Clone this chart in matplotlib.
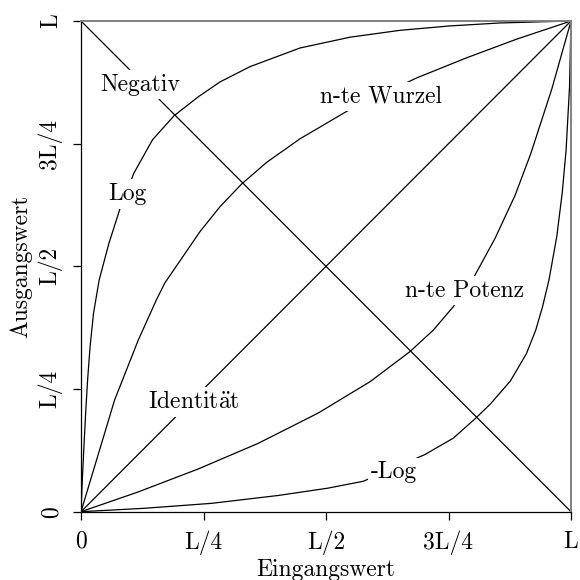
"""
Grauwert-Transformationen: Eingangswert gegen Ausgangswert
"""

import matplotlib
matplotlib.use('Agg')  # ohne GUI
import matplotlib.pyplot as plt

plt.rcParams['font.family'] = ['cmr10', 'DejaVu Serif']
plt.rcParams['mathtext.fontset'] = 'cm'
plt.rcParams['axes.formatter.use_mathtext'] = True

# Werte als Anteil von L
ident_x = [0, 1]
ident_y = [0, 1]

neg_x = [0, 1]
neg_y = [1, 0]

log_x = [0, 0.0027, 0.0060, 0.0095, 0.0135, 0.0185, 0.0255, 0.0370, 0.0570, 0.0820,
         0.108, 0.146, 0.190, 0.240, 0.284, 0.345, 0.447, 0.549, 0.651, 0.753, 0.855, 1.0]
log_y = [0, 0.065, 0.133, 0.201, 0.269, 0.336, 0.404, 0.472, 0.547, 0.625,
         0.690, 0.758, 0.807, 0.846, 0.876, 0.907, 0.945, 0.967, 0.981, 0.990, 0.996, 1.0]

wurzel_x = [0, 0.0687, 0.117, 0.154, 0.171, 0.243, 0.284, 0.328, 0.379, 0.447,
            0.546, 0.685, 0.787, 0.889, 1.0]
wurzel_y = [0, 0.228, 0.350, 0.432, 0.466, 0.571, 0.622, 0.668, 0.712, 0.760,
            0.818, 0.884, 0.925, 0.963, 1.0]

potenz_x = [0, 0.116, 0.239, 0.361, 0.484, 0.590, 0.671, 0.719, 0.760, 0.804,
            0.845, 0.886, 0.918, 0.961, 1.0]
potenz_y = [0, 0.040, 0.087, 0.139, 0.201, 0.265, 0.326, 0.370, 0.418, 0.482,
            0.557, 0.645, 0.730, 0.862, 1.0]

neglog_x = [0, 0.130, 0.266, 0.402, 0.504, 0.576, 0.701, 0.760, 0.806, 0.835,
            0.876, 0.909, 0.928, 0.942, 0.955, 0.971, 0.982, 0.990, 0.997, 1.0]
neglog_y = [0, 0.007, 0.017, 0.033, 0.048, 0.062, 0.116, 0.150, 0.191, 0.219,
            0.266, 0.322, 0.370, 0.418, 0.472, 0.561, 0.649, 0.737, 0.866, 1.0]

# Beschriftungen der Kurven (Mitte x, Grundlinie y)
kurven_namen = ['Negativ', 'Log', 'n-te Wurzel', 'n-te Potenz', '-Log',
                'Identit$\\ddot{\\mathrm{a}}$t']
namen_x = [0.120, 0.094, 0.612, 0.782, 0.639, 0.230]
namen_y = [0.858, 0.635, 0.833, 0.438, 0.068, 0.211]

tick_pos = [0, 0.25, 0.5, 0.75, 1]
tick_labels = ['0', 'L/4', 'L/2', '3L/4', 'L']

fig = plt.figure(figsize=(5.8, 5.8), dpi=100)
ax = fig.add_axes([81 / 580, 68.3 / 580, 490 / 580, 490.7 / 580])

for xs, ys in [(ident_x, ident_y), (neg_x, neg_y), (log_x, log_y),
               (wurzel_x, wurzel_y), (potenz_x, potenz_y), (neglog_x, neglog_y)]:
    ax.plot(xs, ys, color='black', lw=0.9, zorder=2, solid_joinstyle='round')

for name, tx, ty in zip(kurven_namen, namen_x, namen_y):
    ax.text(tx, ty, name, fontsize=17, ha='center', va='baseline', zorder=3,
            bbox=dict(boxstyle='square,pad=0.15', fc='white', ec='none'))

ax.set_xlim(0, 1)
ax.set_ylim(0, 1)
ax.set_xticks(tick_pos)
ax.set_xticklabels(tick_labels)
ax.set_yticks(tick_pos)
ax.set_yticklabels(tick_labels, rotation=90, va='center')
ax.tick_params(labelsize=17, length=5.5, width=0.9, pad=8, direction='out')

ax.set_xlabel('Eingangswert', fontsize=17, labelpad=3)
ax.set_ylabel('Ausgangswert', fontsize=17, labelpad=4)

for s in ['left', 'bottom']:
    ax.spines[s].set_color('black')
    ax.spines[s].set_linewidth(0.9)
for s in ['top', 'right']:
    ax.spines[s].set_color('#808080')
    ax.spines[s].set_linewidth(1.4)

fig.savefig('out.png', dpi=100)
plt.close(fig)
